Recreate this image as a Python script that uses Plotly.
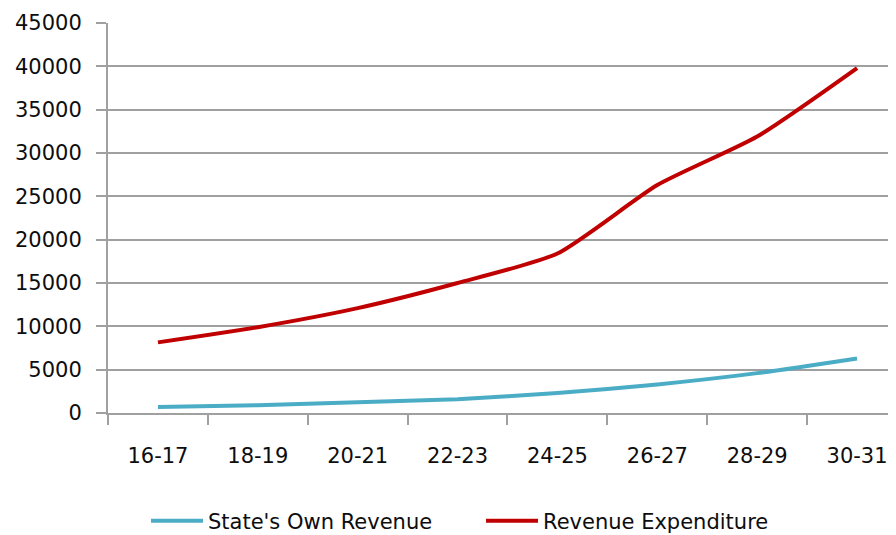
import plotly.graph_objects as go

years = ["16-17", "18-19", "20-21", "22-23", "24-25", "26-27", "28-29", "30-31"]
own_revenue = [700, 900, 1250, 1600, 2300, 3300, 4600, 6300]
rev_expenditure = [8150, 9900, 12100, 15000, 18400, 26300, 31900, 39800]
y_ticks = [0, 5000, 10000, 15000, 20000, 25000, 30000, 35000, 40000, 45000]
y_tick_text = [str(v) for v in y_ticks]

FONT = "DejaVu Sans"
GRID = "#a0a0a0"
TXT = "#0d0d0d"
TICKFONT = dict(family=FONT, size=21, color=TXT)

fig = go.Figure()
fig.add_trace(go.Scatter(
    x=years, y=own_revenue, name="State's Own Revenue", mode="lines",
    line=dict(color="#4BACC6", width=4, shape="spline", smoothing=0.6),
    legend="legend",
))
fig.add_trace(go.Scatter(
    x=years, y=rev_expenditure, name="Revenue Expenditure", mode="lines",
    line=dict(color="#C00000", width=4, shape="spline", smoothing=0.6),
    legend="legend2",
))

leg_common = dict(orientation="h", xref="container", yref="container",
                  xanchor="left", yanchor="middle", y=0.0266,
                  font=dict(family=FONT, size=21, color=TXT),
                  itemwidth=52, bgcolor="rgba(0,0,0,0)", borderwidth=0)

fig.update_layout(
    width=888, height=527,
    margin=dict(l=100, r=0, t=15, b=122),
    paper_bgcolor="white", plot_bgcolor="white",
    font=dict(family=FONT, size=21, color=TXT),
    showlegend=True,
    legend=dict(x=0.1554, **leg_common),
    legend2=dict(x=0.5327, **leg_common),
)
fig.update_xaxes(
    type="category", showgrid=False, showline=True, linecolor=GRID, linewidth=2,
    ticks="outside", ticklen=10, tickcolor=GRID, tickwidth=2, tickson="boundaries",
    ticklabelstandoff=23, tickfont=TICKFONT,
    range=[-0.5, 7.39],
)
fig.update_yaxes(
    range=[0, 45000], tickvals=y_ticks, ticktext=y_tick_text,
    showgrid=True, gridcolor=GRID, gridwidth=2,
    showline=True, linecolor=GRID, linewidth=2, zeroline=False,
    ticks="outside", ticklen=10, tickcolor=GRID, tickwidth=2,
    ticklabelstandoff=10, tickfont=TICKFONT,
)

fig.write_html("out.html")
